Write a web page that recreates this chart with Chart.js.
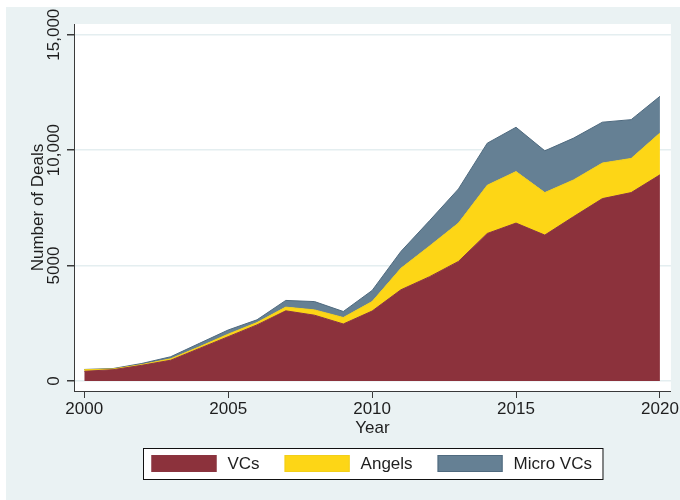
<!DOCTYPE html>
<html><head><meta charset="utf-8">
<script src="https://cdn.jsdelivr.net/npm/chart.js@4"></script>
<style>html,body{margin:0;padding:0;background:#fff}canvas{display:block}</style>
</head><body>
<canvas id="c" width="680" height="500"></canvas>
<script>
// ---- data ----
const years = [2000,2001,2002,2003,2004,2005,2006,2007,2008,2009,2010,2011,2012,2013,2014,2015,2016,2017,2018,2019,2020];
const vcs = [420,490,680,900,1410,1920,2430,3040,2850,2470,3030,3950,4520,5180,6390,6840,6320,7120,7900,8160,8930];
const angels = [70,30,30,60,70,110,100,160,230,280,410,930,1330,1660,2090,2230,1840,1590,1540,1480,1810];
const microVCs = [10,20,50,90,150,180,120,290,360,260,480,730,1100,1480,1820,1920,1810,1810,1770,1680,1590];
const seriesLabels = ['VCs','Angels','Micro VCs'];
const xTickValues = [2000,2005,2010,2015,2020];
const yTickValues = [0,5000,10000,15000];
const yTickLabels = ['0','5000','10,000','15,000'];
const xTitle = 'Year';
const yTitle = 'Number of Deals';

const FONT = "'Liberation Sans', Arial, Helvetica, sans-serif";
const TEXT = '#1e1e1e';
const AXIS = '#3a3a3a';
const fills = ['#8c323c', '#fdd616', '#658094'];
const edges = ['#8a3440', '#f2cf1a', '#4f6a7f'];

function pts(arr){ return years.map((y,i)=>({x:y, y:arr[i]})); }

const bgPlugin = {
  id:'bg',
  beforeDraw(chart){
    const ctx = chart.ctx, a = chart.chartArea;
    ctx.save();
    ctx.fillStyle = '#ffffff';
    ctx.fillRect(0,0,chart.width,chart.height);
    ctx.fillStyle = '#eaf2f3';
    ctx.fillRect(6,7,chart.width-6,chart.height-7);
    ctx.fillStyle = '#ffffff';
    ctx.fillRect(a.left,a.top,a.right-a.left,a.bottom-a.top);
    ctx.restore();
  }
};

const yLabelPlugin = {
  id:'ylabels',
  afterDraw(chart){
    const ctx = chart.ctx, s = chart.scales.y;
    ctx.save();
    ctx.font = '17px ' + FONT;
    ctx.fillStyle = TEXT;
    ctx.textAlign = 'center';
    ctx.textBaseline = 'alphabetic';
    yTickValues.forEach((v,i)=>{
      const py = s.getPixelForValue(v);
      ctx.save();
      ctx.translate(s.right - 7 - 8, py);
      ctx.rotate(-Math.PI/2);
      ctx.fillText(yTickLabels[i], 0, 0);
      ctx.restore();
    });
    ctx.restore();
  }
};

const legendPlugin = {
  id:'boxlegend',
  afterDraw(chart){
    const ctx = chart.ctx;
    ctx.save();
    ctx.font = '17px ' + FONT;
    const sw = 65, sh = 17, gapT = 11, gapI = 25, padL = 8, padR = 11;
    const widths = chart.data.datasets.map(d=>ctx.measureText(d.label).width);
    let total = padL + padR;
    widths.forEach((w,i)=>{ total += sw + gapT + w + (i < widths.length-1 ? gapI : 0); });
    const cx = 372.5;
    const left = Math.round(cx - total/2) + 0.5;
    const top = 448.5, h = 31;
    ctx.fillStyle = '#ffffff';
    ctx.fillRect(left, top, total, h);
    ctx.strokeStyle = '#111';
    ctx.lineWidth = 1;
    ctx.strokeRect(left, top, total, h);
    let x = left + padL;
    chart.data.datasets.forEach((d,i)=>{
      ctx.fillStyle = d.backgroundColor;
      ctx.fillRect(x, 455, sw, sh);
      ctx.strokeStyle = d.borderColor;
      ctx.strokeRect(x+0.5, 455.5, sw-1, sh-1);
      x += sw + gapT;
      ctx.fillStyle = TEXT;
      ctx.textAlign = 'left';
      ctx.textBaseline = 'middle';
      ctx.fillText(d.label, x, 464);
      x += widths[i] + gapI;
    });
    ctx.restore();
  }
};

const seriesData = [vcs, angels, microVCs];
new Chart(document.getElementById('c'), {
  type:'line',
  data:{
    datasets: seriesData.map((arr,i)=>({
      label: seriesLabels[i],
      data: pts(arr),
      backgroundColor: fills[i],
      borderColor: edges[i],
      borderWidth: 1,
      fill: i === 0 ? 'origin' : '-1',
      pointRadius: 0,
      tension: 0
    }))
  },
  options:{
    responsive:false,
    animation:false,
    devicePixelRatio:1,
    layout:{padding:{left:0, top:24, right:8, bottom:61}},
    plugins:{legend:{display:false}, tooltip:{enabled:false}},
    scales:{
      x:{
        type:'linear', min:1999.643, max:2020.381,
        afterBuildTicks: s => { s.ticks = xTickValues.map(v=>({value:v})); },
        ticks:{font:{family:FONT,size:17}, color:TEXT, padding:1, maxRotation:0, minRotation:0, autoSkip:false, callback: v => String(v)},
        grid:{drawOnChartArea:false, drawTicks:true, tickLength:7, tickColor:AXIS},
        border:{display:true, color:AXIS, width:1},
        title:{display:true, text:xTitle, font:{family:FONT,size:17}, color:TEXT, padding:{top:0,bottom:0}},
        afterFit: s => { s.height = 48; }
      },
      y:{
        stacked:true, min:-433, max:15463,
        afterBuildTicks: s => { s.ticks = yTickValues.map(v=>({value:v})); },
        ticks:{display:false},
        grid:{color:'#e4eef0', lineWidth:1.5, drawTicks:true, tickLength:7, tickColor:AXIS},
        border:{display:true, color:AXIS, width:1},
        title:{display:true, text:yTitle, font:{family:FONT,size:17}, color:TEXT, padding:{top:28,bottom:0}},
        afterFit: s => { s.width = 74; }
      }
    }
  },
  plugins:[bgPlugin, yLabelPlugin, legendPlugin]
});
</script>
</body></html>
